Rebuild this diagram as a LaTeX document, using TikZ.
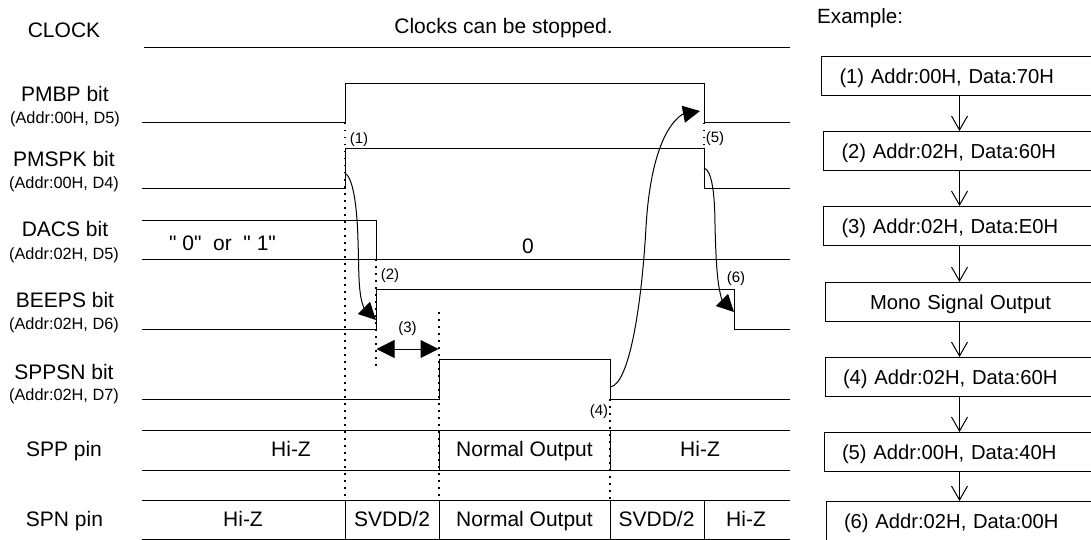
\documentclass[tikz,border=0pt]{standalone}
\usepackage{fontspec}
\setmainfont{Liberation Sans}
\newfontfamily\straightfont{Liberation Sans}
\usetikzlibrary{arrows.meta,positioning,calc}
\newcommand{\Bigfont}{\fontsize{21}{23}\selectfont}
\newcommand{\Boxfont}{\fontsize{20.2}{22}\selectfont}
\newcommand{\Subfont}{\fontsize{16.3}{18}\selectfont}
\newcommand{\Tagfont}{\fontsize{15}{17}\selectfont}
\tikzset{
  wave/.style={line width=1pt},
  guide/.style={line width=1.2pt, dash pattern=on 1.5pt off 5.5pt},
  bigarrow/.style={line width=1pt, -{Triangle[length=17pt,width=17pt]}},
  sigtext/.style={font=\Bigfont, inner sep=0pt, text height=15pt, text depth=0pt},
  subtext/.style={font=\Subfont, inner sep=0pt, text height=11.7pt, text depth=0pt},
  tagtext/.style={font=\Tagfont, inner sep=0pt, text height=10.7pt, text depth=0pt},
  stepbox/.style={draw, line width=1pt, font=\Boxfont, anchor=west, minimum height=39pt,
                  text width=240pt, inner xsep=18pt, inner ysep=0pt, align=left,
                  text height=14.5pt, text depth=0pt},
  flow/.style={line width=1pt, -{Straight Barb[length=14pt,width=16pt,line width=1pt]}}
}
\begin{document}
\begin{tikzpicture}[x=1pt,y=-1pt]
    \useasboundingbox (0,0) rectangle (1091,540);
    \clip (0,0) rectangle (1091,540);
    % left column
    \node[sigtext] (clock) at (64,30) {CLOCK};
    \node[sigtext] (pmbp) at (65,94) {PMBP bit};
    \node[subtext] (pmbpaddr) at (65,118) {(Addr:00H, D5)};
    \node[sigtext] (pmspk) at (64,159) {PMSPK bit};
    \node[subtext] (pmspkaddr) at (64,182.5) {(Addr:00H, D4)};
    \node[sigtext] (dacs) at (65,229) {DACS bit};
    \node[subtext] (dacsaddr) at (64,254) {(Addr:02H, D5)};
    \node[sigtext] (beeps) at (65,300) {BEEPS bit};
    \node[subtext] (beepsaddr) at (64,324) {(Addr:02H, D6)};
    \node[sigtext] (sppsn) at (64,372) {SPPSN bit};
    \node[subtext] (sppsnaddr) at (64,395) {(Addr:02H, D7)};
    \node[sigtext] (spp) at (64,448.5) {SPP pin};
    \node[sigtext] (spn) at (64.5,518.5) {SPN pin};
    % dotted guides
    \draw[guide] (345,123) -- (345,500);
    \draw[guide] (376,259) -- (376,368);
    \draw[guide] (439,312) -- (439,500);
    \draw[guide] (610,399) -- (610,500);
    \draw[guide] (704,123) -- (704,149);
    % waveforms
    \draw[wave] (144,48) -- (790,48);
    \draw[wave] (142,123) -- (345,123) -- (345,84) -- (704,84) -- (704,123) -- (790,123);
    \draw[wave] (142,188) -- (345,188) -- (345,149) -- (704,149) -- (704,188) -- (790,188);
    \draw[wave] (142,220) -- (376,220) -- (376,259);
    \draw[wave] (142,259) -- (790,259);
    \draw[wave] (142,329) -- (376,329) -- (376,289) -- (734,289) -- (734,329) -- (790,329);
    \draw[wave] (142,399) -- (439,399) -- (439,359) -- (610,359) -- (610,399) -- (790,399);
    \draw[wave] (142,430) -- (790,430);
    \draw[wave] (142,470) -- (790,470);
    \draw[wave] (142,500) -- (790,500);
    \draw[wave] (142,539) -- (790,539);
    \draw[wave] (439,430) -- (439,470);
    \draw[wave] (610,430) -- (610,470);
    \draw[wave] (345,500) -- (345,539);
    \draw[wave] (439,500) -- (439,539);
    \draw[wave] (610,500) -- (610,539);
    \draw[wave] (704,500) -- (704,539);
    % texts on the waveforms
    \node[sigtext] (stopped) at (503.5,26) {Clocks can be stopped.};
    \node[sigtext] (either) at (222.5,243) {\straightfont " 0"\ \ or\ \ " 1"};
    \node[sigtext] (zero) at (528,246) {0};
    \node[sigtext] (sppa) at (291,448.5) {Hi-Z};
    \node[sigtext] (sppb) at (524.5,448.5) {Normal Output};
    \node[sigtext] (sppc) at (700,448.5) {Hi-Z};
    \node[sigtext] (spna) at (243,518.5) {Hi-Z};
    \node[sigtext] (spnb) at (392,518.5) {SVDD/2};
    \node[sigtext] (spnc) at (524.5,518.5) {Normal Output};
    \node[sigtext] (spnd) at (656.5,518.5) {SVDD/2};
    \node[sigtext] (spne) at (746,518.5) {Hi-Z};
    % numbered marks
    \node[tagtext] (tagone) at (359,138) {(1)};
    \node[tagtext] (tagtwo) at (390,274) {(2)};
    \node[tagtext] (tagthree) at (407.5,327) {(3)};
    \node[tagtext] (tagfour) at (599,410) {(4)};
    \node[tagtext] (tagfive) at (715,137) {(5)};
    \node[tagtext] (tagsix) at (736,277) {(6)};
    % timing arrows
    \draw[bigarrow] (345,173) .. controls (353,178) and (357,205) .. (358,240) .. controls (359,270) and (358,295) .. (364,308) -- (376,320);
    \draw[bigarrow] (610,387) .. controls (630,385) and (642,300) .. (646,227) .. controls (649,175) and (660,130) .. (682,114.5) -- (700,111);
    \draw[bigarrow] (704,168) .. controls (712,170) and (715,195) .. (715,227) .. controls (716,260) and (717,285) .. (722,300) -- (734,312);
    \draw[line width=1pt, {Triangle[length=18pt,width=18pt]}-{Triangle[length=18pt,width=18pt]}] (376.5,349) -- (438.5,349);
    % example flow
    \node[font=\fontsize{20.6}{22}\selectfont, inner sep=0pt, anchor=west] (example) at (817,18) {Example:};
    \node[stepbox] (stepa) at (821,76) {(1) Addr:00H, Data:70H};
    \node[stepbox] (stepb) at (823,151) {(2) Addr:02H, Data:60H};
    \node[stepbox] (stepc) at (823,226) {(3) Addr:02H, Data:E0H};
    \node[stepbox, text width=235pt, align=center] (mono) at (824.5,302) {Mono Signal Output};
    \node[stepbox] (stepd) at (824.5,377) {(4) Addr:02H, Data:60H};
    \node[stepbox] (stepe) at (823.5,452) {(5) Addr:00H, Data:40H};
    \node[stepbox] (stepf) at (825.5,521) {(6) Addr:02H, Data:00H};
    \coordinate (flowx) at (959.5,0);
    \foreach \from/\to in {stepa/stepb,stepb/stepc,stepc/mono,mono/stepd,stepd/stepe,stepe/stepf}
      \draw[flow] (\from.south -| flowx) -- (\to.north -| flowx);
\end{tikzpicture}
\end{document}
